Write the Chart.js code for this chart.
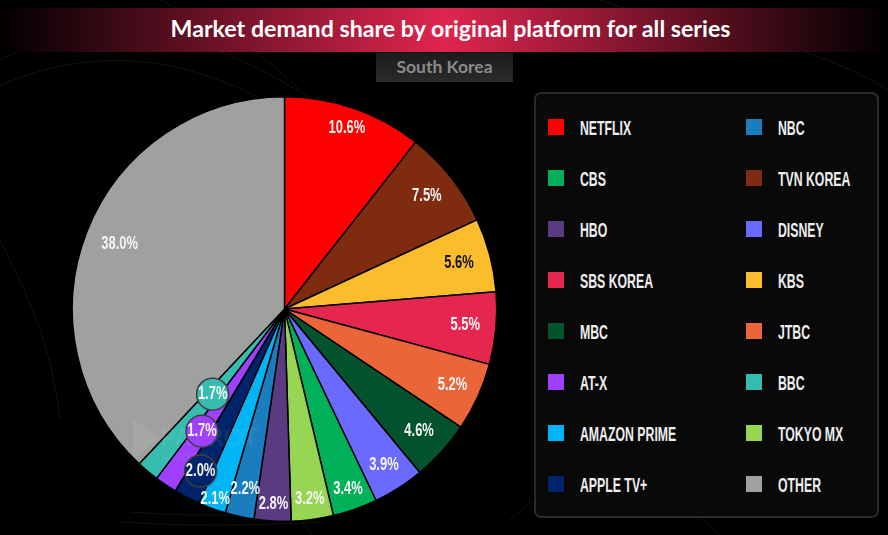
<!DOCTYPE html>
<html>
<head>
<meta charset="utf-8">
<script src="https://cdn.jsdelivr.net/npm/chart.js@4"></script>
<style>
  html, body { margin: 0; padding: 0; width: 888px; height: 535px; overflow: hidden; background: #000; }
  #bg { position: absolute; left: 0; top: 0; }
  #title {
    position: absolute; left: 0; top: 8px; width: 888px; height: 44px; box-sizing: border-box; padding-left: 13px;
    text-align: center; color: #fff; font: 700 23.2px/41px Lato, sans-serif;
    background: linear-gradient(90deg, #000 0%, #e0254f 50%, #000 100%);
  }
  #subtitle {
    position: absolute; left: 376px; top: 53px; width: 137px; height: 29px;
    text-align: center; color: #8b8b8b; font: 700 17.5px/28px Lato, sans-serif;
    background: linear-gradient(180deg, #1c1c1c, #2a2a2a);
  }
  #pie-wrap { position: absolute; left: 60px; top: 85px; width: 449px; height: 448px; }
  #legend {
    position: absolute; left: 534px; top: 92px; width: 345px; height: 426px; box-sizing: border-box;
    background: #090909; border: 2px solid #2a2a2a; border-radius: 7px;
  }
  .item {
    position: absolute; color: #eee; white-space: nowrap;
    font: 700 19.5px/20px "Liberation Sans", sans-serif;
  }
  .item i { position: absolute; left: 0; top: 1px; width: 16px; height: 16px; }
  .item span { position: absolute; left: 32px; top: 0; transform: scaleX(.63); transform-origin: left; }
</style>
</head>
<body>
<svg id="bg" width="888" height="535" fill="none" stroke="#1c0f12" stroke-width="1">
  <path d="M0 60C120 0 220 40 330 110"/>
  <path d="M0 85C110 40 200 60 300 120"/>
  <path d="M160 0C220 30 260 50 300 90"/>
  <path d="M510 520C560 470 640 460 720 535"/>
  <path d="M280 500C300 520 310 530 312 535"/>
  <path d="M600 0C680 30 790 30 888 90"/>
  <path d="M0 240C30 300 50 340 60 420"/>
  <path d="M130 512C180 516 240 516 300 512"/>
  <path d="M120 522C180 526 250 526 320 522"/>
</svg>
<div id="title">Market demand share by original platform for all series</div>
<div id="subtitle">South Korea</div>
<div id="pie-wrap"><canvas id="pie"></canvas></div>
<div id="legend"></div>

<script>
// slices, clockwise from the top
const platforms = ['NETFLIX', 'TVN KOREA', 'KBS', 'SBS KOREA', 'JTBC', 'MBC', 'DISNEY', 'CBS', 'TOKYO MX', 'HBO', 'NBC', 'AMAZON PRIME', 'APPLE TV+', 'AT-X', 'BBC', 'OTHER'];
const shares = [10.6, 7.5, 5.6, 5.5, 5.2, 4.6, 3.9, 3.4, 3.2, 2.8, 2.2, 2.1, 2.0, 1.7, 1.7, 38.0];
const colors = ['#ff0000', '#7f2b10', '#fbbd2c', '#e5264f', '#ea6639', '#03532e', '#6a6aff', '#00b159', '#96d654', '#5a3a80', '#1a7dbd', '#00b4f5', '#00246b', '#a040ff', '#36bdb0', '#a0a09e'];

// legend reads across two columns
const legendOrder = ['NETFLIX', 'NBC', 'CBS', 'TVN KOREA', 'HBO', 'DISNEY', 'SBS KOREA', 'KBS', 'MBC', 'JTBC', 'AT-X', 'BBC', 'AMAZON PRIME', 'TOKYO MX', 'APPLE TV+', 'OTHER'];

// how far out each label sits, as a share of the pie radius
const labelDistance = [.90, .855, .85, .855, .87, .855, .87, .90, .905, .92, .87, .955, .86, .695, .525, .835];
const darkLabels = ['KBS'];
const bubbleLabels = ['APPLE TV+', 'AT-X', 'BBC'];

const legendEl = document.getElementById('legend');
legendOrder.forEach((name, i) => {
    const row = Math.floor(i / 2);
    const el = document.createElement('div');
    el.className = 'item';
    el.style.left = (i % 2 ? 210 : 12) + 'px';
    el.style.top = (24 + row * 51) + 'px';
    el.innerHTML = '<i style="background:' + colors[platforms.indexOf(name)] + '"></i><span>' + name + '</span>';
    legendEl.appendChild(el);
});

// value labels and the little callout circles on the thin slices
const sliceLabels = {
    id: 'sliceLabels',
    afterDatasetsDraw(chart) {
        const ctx = chart.ctx;
        const arcs = chart.getDatasetMeta(0).data;

        // faint watermark over the pie
        ctx.save();
        ctx.fillStyle = 'rgba(255,255,255,.07)';
        ctx.beginPath();
        ctx.moveTo(73, 335);
        ctx.lineTo(100, 352);
        ctx.lineTo(73, 375);
        ctx.closePath();
        ctx.fill();
        ctx.font = '700 25px Lato, sans-serif';
        ctx.fillText('PARROT', 100, 361);
        ctx.font = '700 9px Lato, sans-serif';
        ctx.fillText('ANALYTICS', 102, 375);
        ctx.restore();

        arcs.forEach((arc, i) => {
            const { x, y, startAngle, endAngle, outerRadius } = arc.getProps(['x', 'y', 'startAngle', 'endAngle', 'outerRadius'], true);
            const mid = (startAngle + endAngle) / 2;
            const r = outerRadius * labelDistance[i];
            const px = x + Math.cos(mid) * r;
            const py = y + Math.sin(mid) * r;

            ctx.save();
            if (bubbleLabels.includes(platforms[i])) {
                ctx.beginPath();
                ctx.arc(px, py, 16, 0, Math.PI * 2);
                ctx.fillStyle = colors[i];
                ctx.fill();
                ctx.lineWidth = 1.5;
                ctx.strokeStyle = '#3f3f3f';
                ctx.stroke();
            }
            // squeeze the type to get the condensed look of the original
            ctx.translate(px, py);
            ctx.scale(.72, 1);
            ctx.font = '700 18px "Liberation Sans", sans-serif';
            ctx.textAlign = 'center';
            ctx.textBaseline = 'middle';
            ctx.fillStyle = darkLabels.includes(platforms[i]) ? '#111' : '#f4f4f4';
            ctx.fillText(shares[i].toFixed(1) + '%', 0, 0);
            ctx.restore();
        });
    }
};

new Chart(document.getElementById('pie'), {
    type: 'pie',
    data: {
        labels: platforms,
        datasets: [{
            data: shares,
            backgroundColor: colors,
            borderColor: '#000',
            borderWidth: 1.5
        }]
    },
    options: {
        responsive: true,
        maintainAspectRatio: false,
        animation: false,
        layout: { padding: 11 },
        plugins: { legend: { display: false }, tooltip: { enabled: false } }
    },
    plugins: [sliceLabels]
});
</script>
</body>
</html>
